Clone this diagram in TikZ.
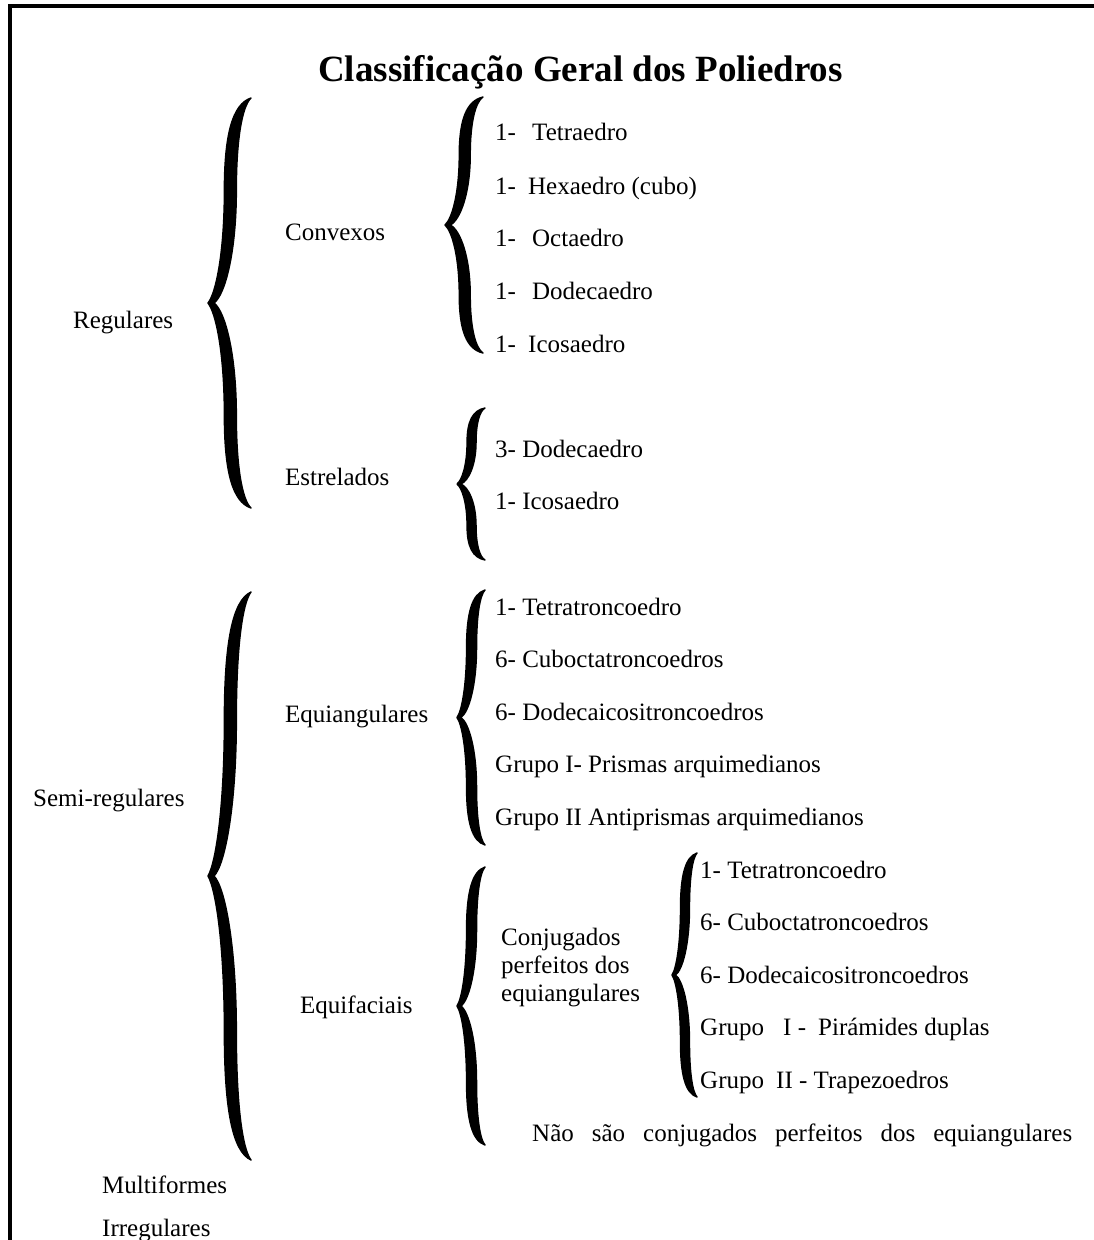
\documentclass[tikz,border=0pt]{standalone}
\usepackage{fontspec}
\setmainfont{Liberation Serif}
\tikzset{
  lbl/.style={anchor=base west, inner sep=0pt, font=\fontsize{25}{28}\selectfont},
  ttl/.style={anchor=base, inner sep=0pt, font=\bfseries\fontsize{37}{40}\selectfont},
  bracefill/.style={fill=black, draw=black, line width=1.4pt, line join=round, line cap=round},
  frameline/.style={line width=4pt, line join=miter}
}
% #1 tip x, #2 end x, #3 top y, #4 bottom y, #5 spine width
\newcommand\curlybr[5]{%
  \pgfmathsetmacro\cbM{(#3+#4)/2}%
  \pgfmathsetmacro\cbh{(#4-#3)/2}%
  \pgfmathsetmacro\cbS{#1+0.52*(#2-#1)}%
  \pgfmathsetmacro\cbL{\cbS-#5/2}%
  \pgfmathsetmacro\cbR{\cbS+#5/2}%
  \pgfmathsetmacro\cbI{#1+0.14*(#2-#1)}%
  \pgfmathsetmacro\cbQ{#3+0.45*\cbh}%
  \pgfmathsetmacro\cbP{#4-0.45*\cbh}%
  \fill[bracefill] (#2,#3)
   .. controls ({#2-0.7*(#2-\cbL)},{#3+0.03*\cbh}) and (\cbL,{#3+0.18*\cbh}) .. (\cbL,\cbQ)
   .. controls (\cbL,{\cbQ+0.3*\cbh}) and ({#1+0.5*(\cbL-#1)},{\cbM-0.05*\cbh}) .. (#1,\cbM)
   .. controls ({#1+0.5*(\cbL-#1)},{\cbM+0.05*\cbh}) and (\cbL,{\cbP-0.3*\cbh}) .. (\cbL,\cbP)
   .. controls (\cbL,{#4-0.18*\cbh}) and ({#2-0.7*(#2-\cbL)},{#4-0.03*\cbh}) .. (#2,#4)
   .. controls ({#2-0.6*(#2-\cbR)},{#4-0.04*\cbh}) and (\cbR,{#4-0.2*\cbh}) .. (\cbR,\cbP)
   .. controls (\cbR,{\cbP-0.3*\cbh}) and ({\cbI+0.5*(\cbR-\cbI)},{\cbM+0.04*\cbh}) .. (\cbI,\cbM)
   .. controls ({\cbI+0.5*(\cbR-\cbI)},{\cbM-0.04*\cbh}) and (\cbR,{\cbQ+0.3*\cbh}) .. (\cbR,\cbQ)
   .. controls (\cbR,{#3+0.2*\cbh}) and ({#2-0.6*(#2-\cbR)},{#3+0.04*\cbh}) .. (#2,#3) -- cycle;
}
\begin{document}
\begin{tikzpicture}[x=1pt,y=-1pt]
\useasboundingbox (0,0) rectangle (1094,1240);
\fill[white] (0,0) rectangle (1094,1240);
% frame
\draw[frameline] (9.5,1242) -- (9.5,5.5) -- (1096,5.5);
% title
\node[ttl] (title) at (580.5,81) {Classificação Geral dos Poliedros};
% braces
\curlybr{208}{251}{98}{508}{12}
\curlybr{445}{483}{97}{353}{11}
\curlybr{457}{485}{408}{560}{9}
\curlybr{208}{251}{592}{1160}{12}
\curlybr{457}{485}{590}{845}{10}
\curlybr{457}{485}{867}{1145}{10}
\curlybr{672}{697}{853}{1097}{9}
% level 1
\node[lbl] (reg) at (73,328) {Regulares};
\node[lbl] (semi) at (33,806) {Semi-regulares};
\node[lbl] (multi) at (102,1193) {Multiformes};
\node[lbl] (irreg) at (102,1236) {Irregulares};
% level 2
\node[lbl] (conv) at (285,240) {Convexos};
\node[lbl] (estr) at (285,485) {Estrelados};
\node[lbl] (equiang) at (285,722) {Equiangulares};
\node[lbl] (equifac) at (300,1013) {Equifaciais};
% convexos
\node[lbl] (c1) at (495,140) {\makebox[37pt][l]{1-}Tetraedro};
\node[lbl] (c2) at (495,194) {\makebox[33pt][l]{1-}Hexaedro (cubo)};
\node[lbl] (c3) at (495,246) {\makebox[37pt][l]{1-}Octaedro};
\node[lbl] (c4) at (495,299) {\makebox[37pt][l]{1-}Dodecaedro};
\node[lbl] (c5) at (495,352) {\makebox[33pt][l]{1-}Icosaedro};
% estrelados
\node[lbl] (e1) at (495,457) {3- Dodecaedro};
\node[lbl] (e2) at (495,509) {1- Icosaedro};
% equiangulares
\node[lbl] (a1) at (495,615) {1- Tetratroncoedro};
\node[lbl] (a2) at (495,667) {6- Cuboctatroncoedros};
\node[lbl] (a3) at (495,720) {6- Dodecaicositroncoedros};
\node[lbl] (a4) at (495,772) {Grupo I- Prismas arquimedianos};
\node[lbl] (a5) at (495,825) {Grupo II Antiprismas arquimedianos};
% equifaciais
\node[lbl] (cj1) at (501,945) {Conjugados};
\node[lbl] (cj2) at (501,973) {perfeitos dos};
\node[lbl] (cj3) at (501,1001) {equiangulares};
\node[lbl] (f1) at (700,878) {1- Tetratroncoedro};
\node[lbl] (f2) at (700,930) {6- Cuboctatroncoedros};
\node[lbl] (f3) at (700,983) {6- Dodecaicositroncoedros};
\node[lbl] (f4) at (700,1035) {\makebox[83pt][l]{Grupo}\makebox[35pt][l]{I -}Pirámides duplas};
\node[lbl] (f5) at (700,1088) {\makebox[76pt][l]{Grupo}II - Trapezoedros};
\node[lbl] (nao) at (532,1141) {\makebox[540pt][s]{Não são conjugados perfeitos dos equiangulares}};
\end{tikzpicture}
\end{document}
